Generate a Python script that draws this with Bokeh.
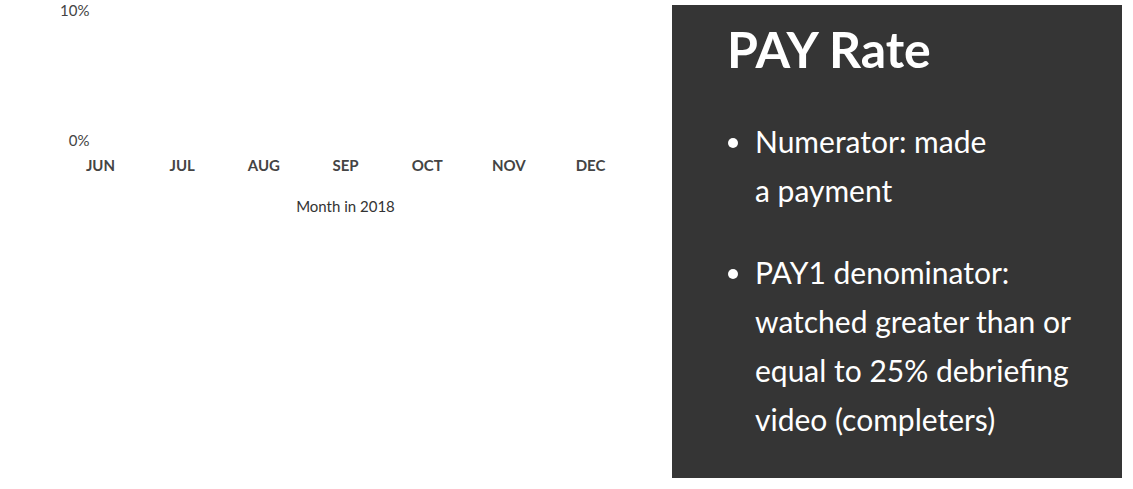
from bokeh.plotting import figure
from bokeh.models import Label, Legend, LegendItem, Range1d, Div
from bokeh.layouts import row
from bokeh.embed import file_html
from bokeh.resources import INLINE

months = ["JUN", "JUL", "AUG", "SEP", "OCT", "NOV", "DEC"]
pay1_rate = [7.1, 9.2, 9.3, 4.9, 8.75, 8.3, 8.25]
pay1_avg = [7.5] * 7
y_ticks = [0, 2, 4, 6, 8, 10]

bullets = [["Numerator: made", "a payment"],
           ["PAY1 denominator:", "watched greater than or", "equal to 25% debriefing", "video (completers)"]]

FONT = "Lato"
xs = list(range(len(months)))

p = figure(width=667, height=473, output_backend="svg", toolbar_location=None,
           x_range=Range1d(0, 6), y_range=Range1d(0, 10),
           min_border_left=100, min_border_right=77, min_border_top=139, min_border_bottom=10)
p.outline_line_color = None
p.xgrid.grid_line_color = None
p.ygrid.grid_line_color = "#d9d9d9"
p.ygrid.ticker = y_ticks

l1 = p.line(xs, pay1_rate, color="#2e6a92", line_width=3)
l2 = p.line(xs, pay1_avg, color="#d4914e", line_width=3)

p.xaxis.ticker = xs
p.xaxis.major_label_overrides = {i: m for i, m in enumerate(months)}
p.yaxis.ticker = y_ticks
p.yaxis.major_label_overrides = {v: f"{v}%" for v in y_ticks}
for ax in (p.xaxis[0], p.yaxis[0]):
    ax.axis_line_color = None
    ax.major_tick_line_color = None
    ax.minor_tick_line_color = None
    ax.major_label_text_font = FONT
    ax.major_label_text_font_size = "15px"
    ax.major_label_text_color = "#444444"
    ax.axis_label_text_font = FONT
    ax.axis_label_text_font_style = "normal"
    ax.axis_label_text_font_size = "15px"
    ax.axis_label_text_color = "#333333"
p.xaxis.major_label_text_font_style = "bold"
p.yaxis.axis_label = "PAY1 Rate"
p.xaxis.axis_label = "Month in 2018"
p.xaxis.major_label_standoff = 10
p.xaxis.axis_label_standoff = 20

p.add_layout(Label(x=237, y=225, x_units="screen", y_units="screen", text="PAY1 Baseline Rate",
                   text_font=FONT, text_font_size="18px", text_color="#555555", text_align="center"))

legend = Legend(items=[LegendItem(label="PAY1 Rate", renderers=[l1]),
                       LegendItem(label="PAY1 Average Over Time Period", renderers=[l2])],
                location="left", border_line_color=None, background_fill_alpha=0,
                label_text_font=FONT, label_text_font_size="15px", label_text_color="#444444",
                spacing=10, glyph_width=40, margin=10, padding=8)
legend.margin = 0
p.add_layout(legend, "below")
legend.location = (60, 0)

html = ('<div style="font-family:Lato;color:white;padding:14px 0 0 55px;">'
        '<div style="font-size:50px;font-weight:bold;line-height:60px;">PAY Rate</div>'
        '<ul style="margin:38px 0 0 0;padding-left:28px;font-size:30px;line-height:49px;">')
for b in bullets:
    html += '<li style="margin-bottom:33px;">' + "<br>".join(b) + "</li>"
html += "</ul></div>"
q = Div(text=html, width=450, height=473,
        styles={"background-color": "#353535", "overflow": "hidden"})

layout = row(p, q)
open("out.html", "w").write(file_html(layout, INLINE))
